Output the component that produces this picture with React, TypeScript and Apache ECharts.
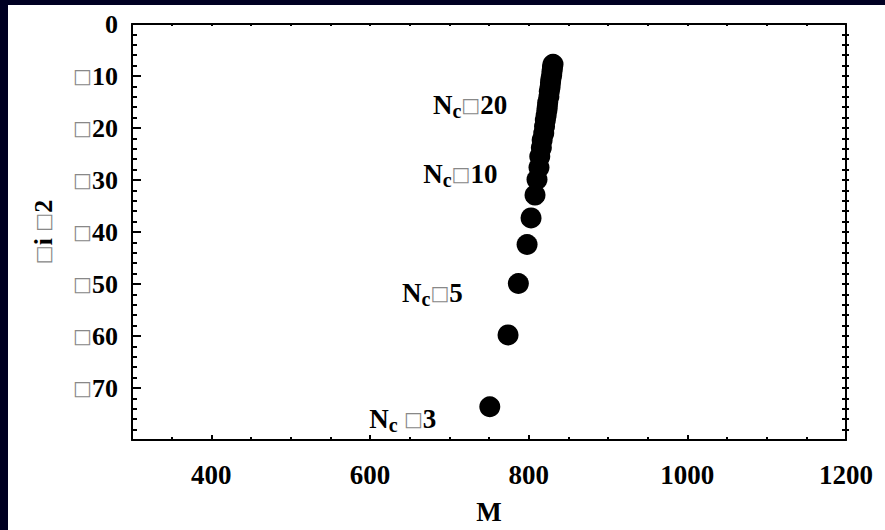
import { useEffect, useRef } from "react";
import * as echarts from "echarts";

// Number of colours N_c for each point
const ncValues = [3, 4, 5, 6, 7, 8, 9, 10, 11, 12, 13, 14, 15, 16, 17, 18, 19, 20, 22, 24, 26, 28, 30, 33, 36, 40, 50];
// M (x) for each point
const massValues = [751, 774, 787, 798, 803, 808, 810.5, 813, 814, 816, 817, 819, 820, 821, 822, 823, 823.5, 824, 825.5, 826, 827, 827.5, 828, 829, 829.5, 830, 830.7];
// vertical value for each point
const yValues = [-73.6, -59.8, -49.9, -42.4, -37.3, -32.9, -29.9, -27.6, -25.5, -23.8, -22.3, -21.0, -19.7, -18.5, -17.6, -16.6, -15.9, -15.1, -14.0, -13.0, -12.1, -11.3, -10.6, -9.8, -9.1, -8.3, -7.75];

const xTickLabels = [400, 600, 800, 1000, 1200];
const xMajorTicks = [400, 600, 800, 1000];
const xMinorTicks = [350, 400, 450, 500, 550, 600, 650, 700, 750, 800, 850, 900, 950, 1000, 1050, 1100, 1150];
const yTickLabels = [0, -10, -20, -30, -40, -50, -60, -70];
const yMinorTicks = [
  -78, -76, -74, -72, -70, -68, -66, -64, -62, -60, -58, -56, -54, -52, -50, -48, -46, -44, -42, -40,
  -38, -36, -34, -32, -30, -28, -26, -24, -22, -20, -18, -16, -14, -12, -10, -8, -6, -4, -2,
];
const xName = "M";
const BOX = "□";

const SERIF = "'Liberation Serif', 'Times New Roman', serif";
const BOXFONT = "'DejaVu Sans', sans-serif";

// label layout for annotated points (style, not data)
const labelLayout: Record<number, { distance: number; dy: number; gap: string }> = {
  3: { distance: 43, dy: 12, gap: " " },
  5: { distance: 45, dy: 10, gap: "" },
  10: { distance: 31, dy: 6, gap: "" },
  20: { distance: 30, dy: 2, gap: "" },
};

const labelRich = {
  N: { fontFamily: SERIF, fontWeight: "bold" as const, fontSize: 27, lineHeight: 28, color: "#000" },
  c: { fontFamily: SERIF, fontWeight: "bold" as const, fontSize: 20, lineHeight: 20, padding: [12, 0, 0, 0], color: "#000" },
  b: { fontFamily: BOXFONT, fontSize: 20, lineHeight: 28, color: "#888" },
  n: { fontFamily: SERIF, fontWeight: "bold" as const, fontSize: 27, lineHeight: 28, color: "#000" },
};

function buildOption() {
  const data = ncValues.map((nc, i) => {
    const item: any = { value: [massValues[i], yValues[i]] };
    const lay = labelLayout[nc];
    if (lay) {
      item.label = {
        show: true,
        position: "left",
        distance: lay.distance,
        offset: [0, lay.dy],
        formatter: `{N|N}{c|c}{b|${lay.gap}${BOX}}{n|${nc}}`,
        rich: labelRich,
      };
    }
    return item;
  });

  const axisLineStyle = { color: "#000", width: 2 };
  const tickStyle = { color: "#000", width: 2 };

  return {
    animation: false,
    backgroundColor: "#fff",
    grid: { left: 124, top: 19, right: 39, bottom: 83, containLabel: false },
    xAxis: [
      {
        type: "value",
        position: "bottom",
        min: 300,
        max: 1200,
        axisLine: { show: true, onZero: false, lineStyle: axisLineStyle },
        axisTick: { show: true, inside: true, length: 3, customValues: xMinorTicks, lineStyle: tickStyle },
        axisLabel: {
          show: true,
          customValues: xTickLabels,
          margin: 21,
          formatter: (v: number) => String(v),
          fontFamily: SERIF,
          fontWeight: "bold",
          fontSize: 27,
          color: "#000",
        },
        splitLine: { show: false },
        name: xName,
        nameLocation: "middle",
        nameGap: 58,
        nameTextStyle: { fontFamily: SERIF, fontWeight: "bold", fontSize: 27, color: "#000" },
      },
      {
        type: "value",
        position: "bottom",
        min: 300,
        max: 1200,
        axisLine: { show: false, onZero: false },
        axisTick: { show: true, inside: true, length: 5, customValues: xMajorTicks, lineStyle: tickStyle },
        axisLabel: { show: false },
        splitLine: { show: false },
      },
      {
        type: "value",
        position: "top",
        min: 300,
        max: 1200,
        axisLine: { show: true, onZero: false, lineStyle: axisLineStyle },
        axisTick: { show: true, inside: true, length: 2, customValues: xMinorTicks, lineStyle: tickStyle },
        axisLabel: { show: false },
        splitLine: { show: false },
      },
    ],
    yAxis: [
      {
        type: "value",
        position: "left",
        min: -80,
        max: 0,
        axisLine: { show: true, onZero: false, lineStyle: axisLineStyle },
        axisTick: { show: true, inside: true, length: 5, customValues: yMinorTicks, lineStyle: tickStyle },
        axisLabel: {
          show: true,
          customValues: yTickLabels,
          margin: 14,
          formatter: (v: number) => (v === 0 ? "{n|0}" : `{b|${BOX}}{n|${Math.abs(v)}}`),
          rich: {
            n: { fontFamily: SERIF, fontWeight: "bold", fontSize: 26, color: "#000" },
            b: { fontFamily: BOXFONT, fontSize: 20, color: "#888" },
          },
        },
        splitLine: { show: false },
        name: `{b|□}{t|i }{b|□}{t|2}`,
        nameLocation: "middle",
        nameRotate: 90,
        nameGap: 76,
        nameTextStyle: {
          color: "#000",
          fontFamily: SERIF,
          fontWeight: "bold",
          fontSize: 26,
          rich: {
            t: { fontFamily: SERIF, fontWeight: "bold", fontSize: 26, color: "#000" },
            b: { fontFamily: BOXFONT, fontWeight: "normal", fontSize: 20, color: "#888" },
          },
        },
      },
      {
        type: "value",
        position: "left",
        min: -80,
        max: 0,
        axisLine: { show: false, onZero: false },
        axisTick: { show: true, inside: true, length: 9, customValues: yTickLabels, lineStyle: tickStyle },
        axisLabel: { show: false },
        splitLine: { show: false },
      },
      {
        type: "value",
        position: "right",
        min: -80,
        max: 0,
        axisLine: { show: true, onZero: false, lineStyle: axisLineStyle },
        axisTick: { show: true, inside: true, length: 4, customValues: yMinorTicks, lineStyle: tickStyle },
        axisLabel: { show: false },
        splitLine: { show: false },
      },
      {
        type: "value",
        position: "right",
        min: -80,
        max: 0,
        axisLine: { show: false, onZero: false },
        axisTick: { show: true, inside: false, length: 3, customValues: yMinorTicks, lineStyle: tickStyle },
        axisLabel: { show: false },
        splitLine: { show: false },
      },
    ],
    series: [
      {
        type: "scatter",
        xAxisIndex: 0,
        yAxisIndex: 0,
        symbol: "circle",
        symbolSize: 21,
        itemStyle: { color: "#000", opacity: 1 },
        data,
      },
    ],
  };
}

export default function App() {
  const ref = useRef<HTMLDivElement>(null);
  useEffect(() => {
    if (!ref.current) return;
    const chart = echarts.init(ref.current, null, { renderer: "svg" });
    chart.setOption(buildOption() as any);
    return () => chart.dispose();
  }, []);
  return (
    <div style={{ position: "fixed", left: 0, top: 0, width: 885, height: 530, background: "#000022" }}>
      <div
        ref={ref}
        style={{ position: "absolute", left: 8, top: 5, width: 877, height: 525, background: "#fff" }}
      />
    </div>
  );
}
